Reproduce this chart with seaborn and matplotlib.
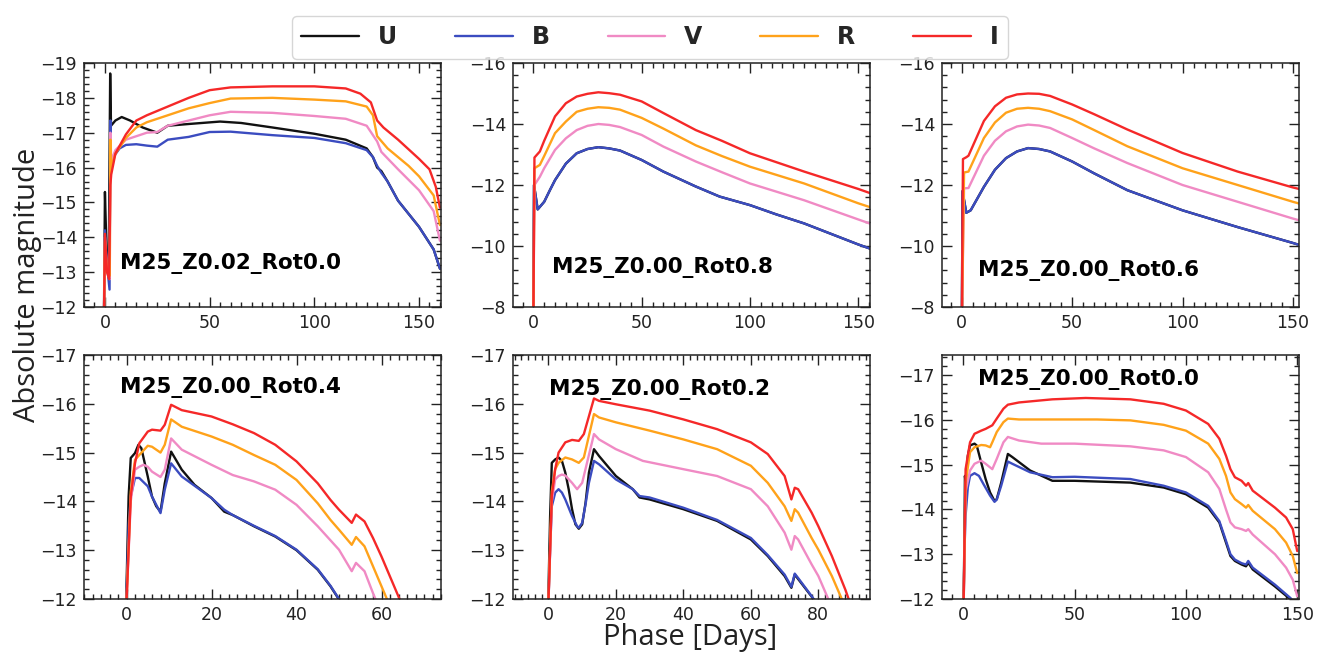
import matplotlib
matplotlib.use("Agg")
import matplotlib.pyplot as plt
import seaborn as sns
import pandas as pd
from matplotlib.ticker import MultipleLocator
from matplotlib.lines import Line2D

# ---------------- data ----------------
bands = ["U", "B", "V", "R", "I"]
band_colors = ["#111111", "#3b4cc0", "#f08ac4", "#ffa21a", "#f52828"]
panel_titles = ["M25_Z0.02_Rot0.0", "M25_Z0.00_Rot0.8", "M25_Z0.00_Rot0.6",
                "M25_Z0.00_Rot0.4", "M25_Z0.00_Rot0.2", "M25_Z0.00_Rot0.0"]
x_label = "Phase [Days]"
y_label = "Absolute magnitude"

# Panel a: M25_Z0.02_Rot0.0
a_U_x = [-0.5, 0, 0.8, 1.8, 2.5, 2.9, 5, 8, 12, 18, 25, 30, 40, 55, 65, 80, 100, 115, 125, 128, 130, 132, 135, 140, 150, 157, 160]
a_U_y = [-11.5, -15.3, -13.5, -13.0, -18.7, -17.2, -17.35, -17.45, -17.35, -17.15, -17.0, -17.2, -17.25, -17.32, -17.28, -17.15, -16.97, -16.8, -16.55, -16.3, -16.0, -15.9, -15.6, -15.05, -14.3, -13.65, -13.1]
a_B_x = [-0.5, 0, 1, 2.2, 2.6, 2.9, 4, 7, 10, 15, 20, 25, 30, 40, 50, 60, 80, 100, 115, 125, 128, 130, 132, 135, 140, 150, 157, 160]
a_B_y = [-11.5, -14.2, -13.2, -12.5, -17.35, -16.0, -16.3, -16.55, -16.65, -16.67, -16.63, -16.6, -16.8, -16.88, -17.02, -17.03, -16.93, -16.85, -16.7, -16.5, -16.3, -16.05, -15.85, -15.6, -15.05, -14.3, -13.65, -13.1]
a_V_x = [-0.5, 0, 1, 2.3, 2.6, 3, 5, 10, 20, 25, 30, 40, 50, 60, 80, 100, 115, 125, 130, 132, 140, 150, 157, 160]
a_V_y = [-11.5, -14.0, -13.0, -12.8, -17.0, -16.2, -16.5, -16.8, -17.0, -17.02, -17.2, -17.35, -17.5, -17.6, -17.57, -17.48, -17.4, -17.2, -16.75, -16.45, -15.95, -15.35, -14.75, -13.9]
a_R_x = [-0.5, 0, 1, 2.3, 2.6, 3, 5, 10, 15, 20, 30, 40, 50, 60, 80, 100, 115, 125, 128, 130, 135, 145, 150, 157, 160]
a_R_y = [-11.5, -13.9, -13.0, -12.9, -16.8, -16.0, -16.4, -16.85, -17.15, -17.3, -17.5, -17.7, -17.85, -17.98, -18.0, -17.95, -17.9, -17.75, -17.5, -16.9, -16.55, -16.05, -15.75, -15.2, -14.35]
a_I_x = [-0.5, 0, 1, 2, 2.6, 3, 5, 10, 15, 20, 30, 40, 50, 60, 80, 100, 115, 122, 127, 130, 133, 140, 150, 155, 158, 160]
a_I_y = [-11.5, -14.1, -13.0, -12.8, -15.5, -15.8, -16.4, -16.95, -17.35, -17.5, -17.75, -18.0, -18.22, -18.3, -18.33, -18.33, -18.27, -18.12, -17.87, -17.35, -17.15, -16.8, -16.25, -15.95, -15.45, -14.85]

# Panel b: M25_Z0.00_Rot0.8
b_U_x = [0, 0.3, 2, 5, 7.7, 10, 15, 20, 25, 30, 35, 40, 50, 60, 75, 86, 100, 112, 125, 150, 156]
b_U_y = [-7.5, -12.0, -11.2, -11.45, -11.84, -12.16, -12.7, -13.04, -13.18, -13.24, -13.2, -13.13, -12.82, -12.44, -11.95, -11.62, -11.34, -11.04, -10.74, -10.05, -9.9]
b_B_x = [0, 0.3, 2, 5, 7.7, 10, 15, 20, 25, 30, 35, 40, 50, 60, 75, 86, 100, 112, 125, 150, 156]
b_B_y = [-7.5, -12.0, -11.2, -11.45, -11.84, -12.16, -12.7, -13.04, -13.18, -13.24, -13.2, -13.13, -12.82, -12.44, -11.95, -11.62, -11.34, -11.04, -10.74, -10.05, -9.9]
b_V_x = [0, 0.5, 3, 5, 10, 15, 20, 25, 30, 35, 40, 50, 60, 75, 87, 100, 125, 150, 156]
b_V_y = [-7.5, -12.0, -12.27, -12.55, -13.15, -13.53, -13.8, -13.94, -14.0, -13.97, -13.9, -13.64, -13.26, -12.77, -12.42, -12.05, -11.5, -10.87, -10.72]
b_R_x = [0, 0.5, 3, 5, 10, 15, 20, 25, 30, 35, 40, 50, 60, 75, 87, 100, 125, 150, 156]
b_R_y = [-7.5, -12.55, -12.66, -12.95, -13.7, -14.08, -14.4, -14.5, -14.55, -14.53, -14.47, -14.2, -13.85, -13.3, -12.95, -12.6, -12.05, -11.4, -11.26]
b_I_x = [0, 0.5, 3, 5, 10, 15, 20, 25, 30, 35, 40, 50, 60, 75, 87, 100, 125, 150, 156]
b_I_y = [-7.5, -12.9, -13.1, -13.45, -14.25, -14.68, -14.9, -14.99, -15.04, -15.01, -14.96, -14.74, -14.36, -13.8, -13.45, -13.04, -12.44, -11.87, -11.72]

# Panel c: M25_Z0.00_Rot0.6
c_U_x = [0, 0.3, 2, 4, 10, 15, 20, 25, 30, 35, 40, 50, 60, 75, 100, 125, 150, 154]
c_U_y = [-7.5, -11.8, -11.09, -11.17, -11.94, -12.5, -12.88, -13.1, -13.21, -13.18, -13.1, -12.77, -12.38, -11.83, -11.17, -10.62, -10.1, -10.01]
c_B_x = [0, 0.3, 2, 4, 10, 15, 20, 25, 30, 35, 40, 50, 60, 75, 100, 125, 150, 154]
c_B_y = [-7.5, -11.8, -11.09, -11.17, -11.94, -12.5, -12.88, -13.1, -13.21, -13.18, -13.1, -12.77, -12.38, -11.83, -11.17, -10.62, -10.1, -10.01]
c_V_x = [0, 1, 3, 10, 15, 20, 25, 30, 35, 40, 50, 60, 75, 100, 125, 150, 154]
c_V_y = [-7.5, -11.89, -11.9, -12.96, -13.45, -13.76, -13.92, -13.98, -13.95, -13.87, -13.54, -13.2, -12.72, -12.0, -11.45, -10.9, -10.82]
c_R_x = [0, 1, 3, 10, 15, 20, 25, 30, 35, 40, 50, 60, 75, 100, 125, 150, 154]
c_R_y = [-7.5, -12.41, -12.44, -13.54, -14.05, -14.37, -14.5, -14.53, -14.5, -14.42, -14.15, -13.8, -13.27, -12.55, -12.0, -11.45, -11.37]
c_I_x = [0, 0.5, 2, 3, 10, 15, 20, 25, 30, 35, 40, 50, 60, 75, 100, 125, 150, 154]
c_I_y = [-7.5, -12.85, -12.91, -12.96, -14.1, -14.58, -14.86, -14.97, -15.0, -14.99, -14.92, -14.64, -14.32, -13.82, -13.05, -12.44, -11.92, -11.85]

# Panel d: M25_Z0.00_Rot0.4
d_U_x = [-0.2, 0.5, 1, 2, 2.8, 3.5, 5, 6, 7, 8, 9, 10.5, 13, 16, 20, 23, 25, 30, 35, 40, 45, 48, 50, 52]
d_U_y = [-11.5, -14.1, -14.89, -14.99, -15.16, -15.09, -14.51, -14.1, -13.9, -13.79, -14.37, -15.02, -14.65, -14.34, -14.07, -13.79, -13.72, -13.49, -13.28, -13.0, -12.6, -12.26, -11.99, -11.7]
d_B_x = [-0.2, 0.5, 1, 2, 3, 5, 6, 8, 9, 10.5, 13, 20, 23, 25, 30, 35, 40, 45, 48, 50, 52]
d_B_y = [-11.5, -13.5, -14.1, -14.48, -14.48, -14.31, -14.1, -13.76, -14.24, -14.78, -14.51, -14.07, -13.83, -13.72, -13.5, -13.29, -13.01, -12.61, -12.27, -12.0, -11.7]
d_V_x = [-0.2, 1, 2, 3, 4, 5, 6, 8, 9, 10.5, 13, 20, 25, 30, 35, 40, 45, 50, 53, 54, 56, 58, 60]
d_V_y = [-11.5, -14.0, -14.65, -14.71, -14.75, -14.71, -14.61, -14.5, -14.65, -15.29, -15.06, -14.75, -14.54, -14.41, -14.24, -13.93, -13.49, -13.01, -12.57, -12.74, -12.57, -12.12, -11.7]
d_R_x = [-0.2, 1, 2, 3, 5, 6, 8, 9, 10.5, 13, 20, 25, 30, 35, 40, 45, 48, 50, 53, 54, 56, 58, 60, 62, 64]
d_R_y = [-11.5, -14.2, -14.85, -14.95, -15.14, -15.12, -15.0, -15.16, -15.68, -15.53, -15.33, -15.16, -14.95, -14.75, -14.44, -13.96, -13.62, -13.42, -13.11, -13.27, -13.08, -12.67, -12.26, -11.85, -11.5]
d_I_x = [-0.2, 1, 2, 3, 5, 6, 8, 9, 10.5, 13, 20, 25, 30, 35, 40, 45, 48, 50, 53, 54, 56, 58, 60, 62, 64, 66]
d_I_y = [-11.5, -14.1, -14.78, -15.19, -15.43, -15.47, -15.45, -15.57, -15.98, -15.87, -15.74, -15.58, -15.4, -15.16, -14.82, -14.37, -14.03, -13.83, -13.56, -13.73, -13.59, -13.25, -12.87, -12.46, -12.05, -11.6]

# Panel e: M25_Z0.00_Rot0.2
e_U_x = [-0.2, 0.5, 1, 2, 3, 4, 5, 6, 7, 8, 9, 10, 11, 12, 13.5, 15, 20, 25, 27, 30, 40, 50, 60, 65, 70, 72, 73, 74, 78, 80]
e_U_y = [-11.5, -13.7, -14.79, -14.86, -14.9, -14.83, -14.59, -14.25, -13.84, -13.53, -13.44, -13.53, -13.97, -14.59, -15.07, -14.93, -14.52, -14.25, -14.08, -14.04, -13.84, -13.6, -13.22, -12.88, -12.47, -12.23, -12.5, -12.41, -12.05, -11.85]
e_B_x = [-0.2, 0.5, 1, 2, 3, 4, 5, 7, 8.5, 9, 10, 11, 12, 13.5, 15, 20, 25, 27, 30, 40, 50, 60, 65, 70, 72, 73, 74, 78, 80]
e_B_y = [-11.5, -13.0, -13.9, -14.18, -14.25, -14.18, -14.04, -13.7, -13.49, -13.46, -13.56, -13.94, -14.38, -14.83, -14.76, -14.45, -14.25, -14.11, -14.08, -13.87, -13.62, -13.25, -12.9, -12.5, -12.25, -12.52, -12.43, -12.06, -11.86]
e_V_x = [-0.2, 1, 2, 3, 4, 5, 7, 8.5, 10, 13.5, 15, 20, 28, 40, 50, 60, 65, 70, 72, 73, 74, 78, 80, 83, 85]
e_V_y = [-11.5, -14.0, -14.45, -14.52, -14.55, -14.53, -14.38, -14.25, -14.38, -15.38, -15.27, -15.07, -14.83, -14.66, -14.52, -14.25, -13.9, -13.36, -13.01, -13.29, -13.22, -12.71, -12.47, -11.99, -11.7]
e_R_x = [-0.2, 1, 2, 3, 5, 7, 9, 10.5, 13.5, 15, 20, 30, 40, 50, 60, 65, 70, 72, 73, 74, 78, 80, 84, 87, 89]
e_R_y = [-11.5, -14.2, -14.66, -14.79, -14.9, -14.86, -14.79, -14.9, -15.79, -15.72, -15.62, -15.45, -15.27, -15.07, -14.73, -14.38, -13.9, -13.6, -13.84, -13.77, -13.25, -13.01, -12.47, -11.99, -11.7]
e_I_x = [-0.2, 1, 2, 3, 5, 7, 9, 10.5, 13.5, 15, 20, 30, 40, 50, 60, 65, 70, 72, 73, 74, 78, 80, 84, 88, 90]
e_I_y = [-11.5, -14.11, -14.66, -15.0, -15.21, -15.26, -15.24, -15.38, -16.11, -16.06, -15.99, -15.86, -15.68, -15.48, -15.21, -14.97, -14.52, -14.04, -14.28, -14.25, -13.77, -13.49, -12.88, -12.19, -11.8]

# Panel f: M25_Z0.00_Rot0.0
f_U_x = [0, 0.5, 0.7, 1, 2, 3, 5, 6, 8, 10, 12, 14, 15, 17, 20, 22, 30, 40, 50, 75, 90, 100, 110, 115, 118, 120, 122, 125, 127, 128, 130, 140, 147, 150]
f_U_y = [-11.5, -13.5, -14.75, -14.6, -15.2, -15.43, -15.47, -15.43, -15.05, -14.68, -14.38, -14.19, -14.23, -14.6, -15.24, -15.17, -14.87, -14.64, -14.64, -14.6, -14.49, -14.34, -14.04, -13.71, -13.26, -12.96, -12.85, -12.77, -12.73, -12.81, -12.66, -12.28, -11.99, -11.8]
f_B_x = [0, 0.5, 1, 2, 3, 5, 7, 9, 12, 14, 15, 17, 20, 22, 30, 40, 50, 75, 90, 100, 110, 115, 118, 120, 122, 125, 127, 128, 130, 140, 147, 150]
f_B_y = [-11.5, -13.1, -13.86, -14.49, -14.75, -14.81, -14.75, -14.57, -14.31, -14.17, -14.22, -14.53, -15.07, -15.02, -14.83, -14.72, -14.73, -14.68, -14.53, -14.38, -14.08, -13.74, -13.3, -13.0, -12.88, -12.8, -12.77, -12.85, -12.7, -12.32, -12.02, -11.83]
f_V_x = [0, 1, 3, 5, 8, 10, 13, 15, 18, 20, 25, 35, 50, 75, 90, 100, 110, 115, 118, 120, 122, 125, 127, 128, 130, 140, 145, 148, 150]
f_V_y = [-11.5, -14.4, -14.87, -15.02, -15.09, -15.02, -14.9, -15.13, -15.5, -15.62, -15.54, -15.47, -15.47, -15.41, -15.32, -15.17, -14.83, -14.46, -14.0, -13.71, -13.6, -13.56, -13.52, -13.56, -13.44, -13.0, -12.7, -12.43, -12.06]
f_R_x = [0, 1, 3, 5, 8, 10, 12, 13, 15, 18, 20, 25, 40, 60, 75, 90, 100, 110, 115, 118, 120, 122, 125, 127, 128, 130, 140, 145, 148, 150]
f_R_y = [-11.5, -14.6, -15.28, -15.39, -15.44, -15.43, -15.39, -15.5, -15.73, -15.95, -16.03, -16.01, -16.01, -16.01, -15.99, -15.89, -15.76, -15.47, -15.13, -14.75, -14.38, -14.23, -14.12, -14.04, -14.1, -13.97, -13.56, -13.26, -12.96, -12.58]
f_I_x = [0, 1, 3, 5, 8, 10, 13, 15, 18, 20, 25, 40, 55, 75, 90, 100, 110, 115, 118, 120, 122, 125, 127, 128, 130, 140, 145, 148, 150]
f_I_y = [-11.5, -14.9, -15.5, -15.69, -15.76, -15.8, -15.88, -16.03, -16.25, -16.34, -16.39, -16.46, -16.49, -16.46, -16.36, -16.21, -15.91, -15.58, -15.2, -14.9, -14.72, -14.64, -14.53, -14.59, -14.42, -14.04, -13.82, -13.56, -13.07]

panel_series = [
    [(a_U_x, a_U_y), (a_B_x, a_B_y), (a_V_x, a_V_y), (a_R_x, a_R_y), (a_I_x, a_I_y)],
    [(b_U_x, b_U_y), (b_B_x, b_B_y), (b_V_x, b_V_y), (b_R_x, b_R_y), (b_I_x, b_I_y)],
    [(c_U_x, c_U_y), (c_B_x, c_B_y), (c_V_x, c_V_y), (c_R_x, c_R_y), (c_I_x, c_I_y)],
    [(d_U_x, d_U_y), (d_B_x, d_B_y), (d_V_x, d_V_y), (d_R_x, d_R_y), (d_I_x, d_I_y)],
    [(e_U_x, e_U_y), (e_B_x, e_B_y), (e_V_x, e_V_y), (e_R_x, e_R_y), (e_I_x, e_I_y)],
    [(f_U_x, f_U_y), (f_B_x, f_B_y), (f_V_x, f_V_y), (f_R_x, f_R_y), (f_I_x, f_I_y)],
]

# axis settings per panel
x_limits = [(-10, 160.5), (-9.4, 155.4), (-9, 152.8), (-10, 74), (-10.5, 95.3), (-9.6, 150.8)]
y_limits = [(-12, -19), (-8, -16), (-8, -16), (-12, -17), (-12, -17), (-12, -17.45)]
x_major = [50, 50, 50, 20, 20, 50]
y_major = [1, 2, 2, 1, 1, 1]
text_pos = [(0.10, 0.18), (0.11, 0.16), (0.10, 0.15), (0.10, 0.865), (0.10, 0.857), (0.10, 0.90)]

# ---------------- figure ----------------
sns.set_theme(style="ticks")
plt.rcParams["font.family"] = ["DejaVu Sans"]
palette = dict(zip(bands, band_colors))

W, H = 1328, 656
fig = plt.figure(figsize=(W / 100, H / 100), dpi=100)
fig.patch.set_facecolor("white")

col_left = [84, 513, 942]
ax_w = 357
row_top = [63, 355]
ax_h = 244

for i in range(6):
    r, c = divmod(i, 3)
    left = col_left[c] / W
    bottom = (H - row_top[r] - ax_h) / H
    ax = fig.add_axes([left, bottom, ax_w / W, ax_h / H])

    rows = []
    for band, (xs, ys) in zip(bands, panel_series[i]):
        for xv, yv in zip(xs, ys):
            rows.append({"phase": xv, "mag": yv, "band": band})
    df = pd.DataFrame(rows)

    sns.lineplot(data=df, x="phase", y="mag", hue="band", hue_order=bands,
                 palette=palette, sort=False, estimator=None, ax=ax,
                 legend=False, linewidth=1.7)

    ax.set_xlim(*x_limits[i])
    ax.set_ylim(*y_limits[i])
    ax.xaxis.set_major_locator(MultipleLocator(x_major[i]))
    ax.xaxis.set_minor_locator(MultipleLocator(x_major[i] / 10))
    ax.yaxis.set_major_locator(MultipleLocator(y_major[i]))
    ax.yaxis.set_minor_locator(MultipleLocator(y_major[i] / 5))
    ax.tick_params(which="both", direction="in", top=True, right=True,
                   colors="#222222", labelsize=12.5, width=1.0)
    ax.tick_params(which="major", length=7, pad=5)
    ax.tick_params(which="minor", length=3.6)
    for sp in ax.spines.values():
        sp.set_color("#222222")
        sp.set_linewidth(1.1)
    ax.set_xlabel("")
    ax.set_ylabel("")
    ax.set_facecolor("white")
    tx, ty = text_pos[i]
    ax.text(tx, ty, panel_titles[i], transform=ax.transAxes, fontsize=15.5,
            fontweight="bold", ha="left", va="center", color="black")

fig.text(690 / W, 1 - 638 / H, x_label, ha="center", va="center",
         fontsize=21, family=["Open Sans", "DejaVu Sans"], color="#222222")
fig.text(28 / W, 1 - 285 / H, y_label, ha="center", va="center", rotation=90,
         fontsize=21, family=["Open Sans", "DejaVu Sans"], color="#222222")

handles = [Line2D([0], [0], color=col, lw=1.7) for col in band_colors]
leg = fig.legend(handles, bands, loc="upper center", bbox_to_anchor=(650 / W, 1 - 4 / H),
                 ncol=5, frameon=True, fancybox=True, handlelength=2.45,
                 handletextpad=0.8, columnspacing=2.45,
                 prop={"weight": "bold", "size": 17})
leg.get_frame().set_edgecolor("#cccccc")
leg.get_frame().set_linewidth(1.0)

fig.savefig("out.png", dpi=100, facecolor="white")
